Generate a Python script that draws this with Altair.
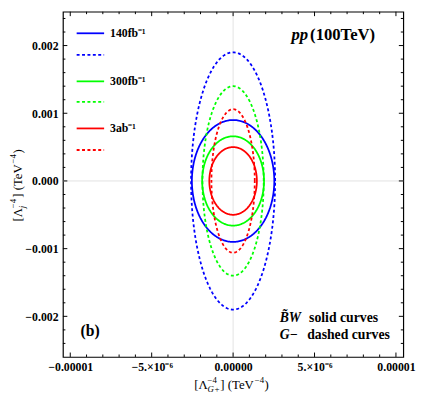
import altair as alt
import numpy as np
import pandas as pd

# ---------------- data ----------------
lumi_labels = ["140fb⁻¹", "300fb⁻¹", "3ab⁻¹"]
line_colors = ["#0000ff", "#00ff00", "#ff0000"]
# semi-axes of the contour ellipses (x: Lambda_G+^-4, y: Lambda_j^-4)
bw_x = [2.53e-6, 1.90e-6, 1.46e-6]     # B~W solid curves
bw_y = [0.00090, 0.00066, 0.00050]
gm_x = [2.58e-6, 1.88e-6, 1.33e-6]     # G- dashed curves
gm_y = [0.00190, 0.00140, 0.00106]

x_major = [-1e-5, -5e-6, 0.0, 5e-6, 1e-5]
x_major_labels = ["−0.00001", "−5.×10⁻⁶", "0.00000", "5.×10⁻⁶", "0.00001"]
x_minor = [-9e-6, -8e-6, -7e-6, -6e-6, -4e-6, -3e-6, -2e-6, -1e-6,
           1e-6, 2e-6, 3e-6, 4e-6, 6e-6, 7e-6, 8e-6, 9e-6]
y_major = [-0.002, -0.001, 0.0, 0.001, 0.002]
y_major_labels = ["−0.002", "−0.001", "0.000", "0.001", "0.002"]
y_minor = [-0.0024, -0.0022, -0.0018, -0.0016, -0.0014, -0.0012,
           -0.0008, -0.0006, -0.0004, -0.0002, 0.0002, 0.0004, 0.0006,
           0.0008, 0.0012, 0.0014, 0.0016, 0.0018, 0.0022, 0.0024]

# ---------------- layout ----------------
W, H = 347, 352
FONT = "Liberation Serif"
MAJ, MIN = 4.5, 2.5

# build contour table (ellipses from the read semi-axes)
t = np.linspace(0, 2 * np.pi, 241)
rows = []
keys, key_colors = [], []
for lab, col, ax_, ay_, gx_, gy_ in zip(lumi_labels, line_colors, bw_x, bw_y, gm_x, gm_y):
    for style, a, b in (("BW", ax_, ay_), ("G", gx_, gy_)):
        k = f"{lab}|{style}"
        keys.append(k)
        key_colors.append(col)
        for i, tt in enumerate(t):
            rows.append({"key": k, "style": style, "i": i,
                         "x": a * np.cos(tt), "y": b * np.sin(tt)})
curves = pd.DataFrame(rows)


def label_expr(vals, labels, tol):
    s = ""
    for v, l in zip(vals, labels):
        s += f"abs(datum.value - ({v!r})) < {tol!r} ? '{l}' : "
    return s + "''"


xscale = alt.Scale(domain=[-1.045e-5, 1.045e-5], nice=False, zero=False)
yscale = alt.Scale(domain=[-0.0026, 0.0025], nice=False, zero=False)
xaxis = alt.Axis(values=x_major, labelExpr=label_expr(x_major, x_major_labels, 1e-7),
                 ticks=False, domain=False, grid=False, title=None,
                 labelFont=FONT, labelFontWeight="bold", labelFontSize=12,
                 labelColor="black", labelPadding=5, labelFlush=False, labelOverlap=False)
yaxis = alt.Axis(values=y_major, labelExpr=label_expr(y_major, y_major_labels, 1e-5),
                 ticks=False, domain=False, grid=False, title=None,
                 labelFont=FONT, labelFontWeight="bold", labelFontSize=12,
                 labelColor="black", labelPadding=5, labelFlush=False, labelOverlap=False)
X = alt.X("x:Q", scale=xscale, axis=xaxis)
Y = alt.Y("y:Q", scale=yscale, axis=yaxis)

layers = []

# zero grid lines
layers.append(alt.Chart(pd.DataFrame({"x": [0.0]})).mark_rule(color="#e2e2e2", strokeWidth=1).encode(x=X))
layers.append(alt.Chart(pd.DataFrame({"y": [0.0]})).mark_rule(color="#e2e2e2", strokeWidth=1).encode(y=Y))

# contour curves
layers.append(
    alt.Chart(curves).mark_line(strokeWidth=1.8, clip=True).encode(
        x=X, y=Y,
        color=alt.Color("key:N", scale=alt.Scale(domain=keys, range=key_colors), legend=None),
        strokeDash=alt.StrokeDash("style:N", scale=alt.Scale(domain=["BW", "G"], range=[[1, 0], [3, 2.5]]), legend=None),
        order=alt.Order("i:Q"),
    )
)

# inward frame ticks
for vals, ln in ((x_major, MAJ), (x_minor, MIN)):
    d = pd.DataFrame({"x": vals})
    layers.append(alt.Chart(d).mark_rule(color="black", strokeWidth=1).encode(x=X, y=alt.value(H), y2=alt.value(H - ln)))
    layers.append(alt.Chart(d).mark_rule(color="black", strokeWidth=1).encode(x=X, y=alt.value(0), y2=alt.value(ln)))
for vals, ln in ((y_major, MAJ), (y_minor, MIN)):
    d = pd.DataFrame({"y": vals})
    layers.append(alt.Chart(d).mark_rule(color="black", strokeWidth=1).encode(y=Y, x=alt.value(0), x2=alt.value(ln)))
    layers.append(alt.Chart(d).mark_rule(color="black", strokeWidth=1).encode(y=Y, x=alt.value(W), x2=alt.value(W - ln)))

one = pd.DataFrame({"a": [0]})


def txt(text, x, y, size, weight="bold", style="normal", align="left", angle=0, baseline="alphabetic"):
    return alt.Chart(one).mark_text(
        text=text, font=FONT, fontSize=size, fontWeight=weight, fontStyle=style,
        align=align, baseline=baseline, angle=angle, color="black"
    ).encode(x=alt.value(x), y=alt.value(y))


# legend (inside, top-left)
legend_rows = [22, 44, 71, 92, 119, 141]
for i, (lab, col) in enumerate(zip(lumi_labels, line_colors)):
    ys = legend_rows[2 * i]
    yd = legend_rows[2 * i + 1]
    layers.append(alt.Chart(one).mark_rule(color=col, strokeWidth=1.8).encode(
        x=alt.value(14), x2=alt.value(42), y=alt.value(ys)))
    layers.append(alt.Chart(one).mark_rule(color=col, strokeWidth=1.8, strokeDash=[3, 2.5]).encode(
        x=alt.value(14), x2=alt.value(42), y=alt.value(yd)))
    layers.append(txt(lab, 48, ys, 12, baseline="middle"))

# annotations
layers.append(txt("pp", 250, 29, 17, style="italic", align="right"))
layers.append(txt("(100TeV)", 252, 29, 17))
layers.append(txt("(b)", 18, 331, 16))
layers.append(txt("B̃W", 221, 316, 14, style="italic"))
layers.append(txt("solid curves", 251, 316, 14))
layers.append(txt("G−", 221, 334, 14, style="italic"))
layers.append(txt("dashed curves", 249, 334, 14))

# x-axis title  [Λ^{-4}_{G+}] (TeV^{-4})
xb = 385
layers.append(txt("[Λ", 134, xb, 13, weight="normal"))
layers.append(txt("−4", 147.5, xb - 6, 9, weight="normal"))
layers.append(txt("G+", 147.5, xb + 3, 9, weight="normal", style="italic"))
layers.append(txt("] (TeV", 160.5, xb, 13, weight="normal"))
layers.append(txt("−4", 195.5, xb - 6, 9, weight="normal"))
layers.append(txt(")", 205.5, xb, 13, weight="normal"))

# y-axis title  [Λ^{-4}_{j}] (TeV^{-4}), rotated
yx = -42
ys0 = 214
layers.append(txt("[Λ", yx, ys0, 13, weight="normal", angle=270))
layers.append(txt("−4", yx - 6, ys0 - 13.7, 9, weight="normal", angle=270))
layers.append(txt("j", yx + 3, ys0 - 13.7, 9, weight="normal", style="italic", angle=270))
layers.append(txt("] (TeV", yx, ys0 - 24.3, 13, weight="normal", angle=270))
layers.append(txt("−4", yx - 6, ys0 - 59.3, 9, weight="normal", angle=270))
layers.append(txt(")", yx, ys0 - 69.5, 13, weight="normal", angle=270))

chart = alt.layer(*layers).properties(
    width=W, height=H,
    autosize=alt.AutoSizeParams(type="none"),
    padding={"left": 56, "top": 0, "right": 14, "bottom": 35},
).configure_view(stroke="black", strokeWidth=1.2)

chart.save("out.html", embed_options={"renderer": "svg", "actions": False})
